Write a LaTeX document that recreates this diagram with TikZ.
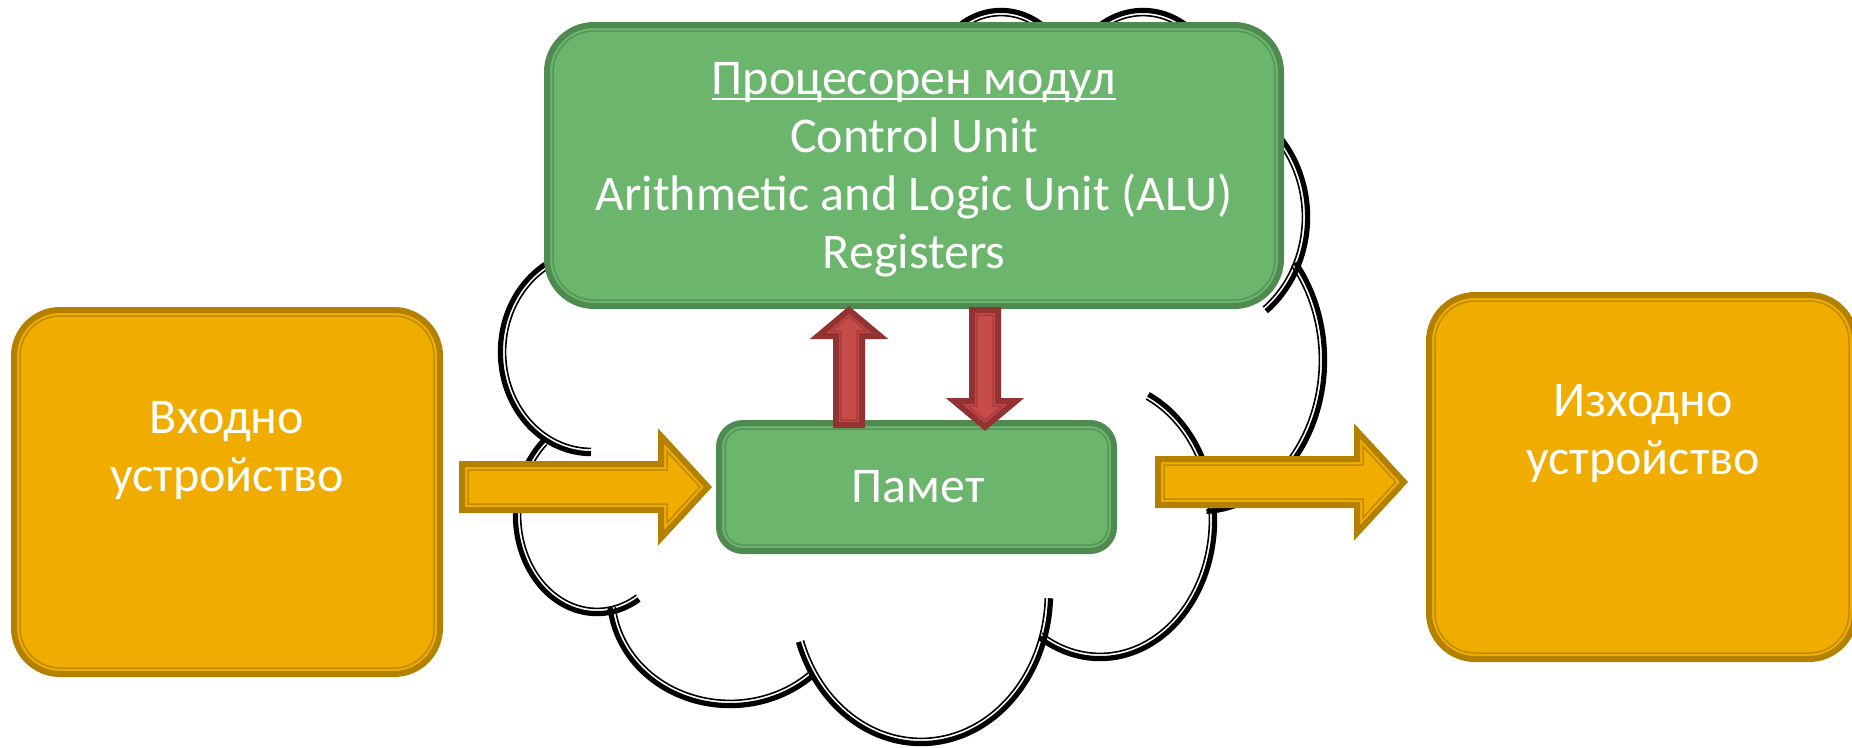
\documentclass[tikz,border=0pt]{standalone}
\usepackage{fontspec}
\setmainfont{Carlito}
\usetikzlibrary{calc}
\definecolor{orfill}{HTML}{F0AD00}
\definecolor{orline}{HTML}{B48000}
\definecolor{orinner}{HTML}{C08A00}
\definecolor{gfill}{HTML}{6BB56D}
\definecolor{gline}{HTML}{4F8A50}
\definecolor{ginner}{HTML}{56955A}
\definecolor{rfill}{HTML}{C64B49}
\definecolor{rline}{HTML}{923232}
\definecolor{rinner}{HTML}{A83C3C}
\newcommand\myuline[1]{\setbox0=\hbox{#1}\rlap{\rule[-6pt]{\wd0}{2.5pt}}\box0}
\newcommand\cloudarc[6]{%
  \draw[line width=5.2pt] plot[domain=#5:#6,samples=90,variable=\t] ({#1+(#3+1.6)*cos(\t)},{#2+(#4+1.6)*sin(\t)});
  \draw[line width=1.6pt] plot[domain=#5:#6,samples=90,variable=\t] ({#1+(#3-3.6)*cos(\t)},{#2+(#4-3.6)*sin(\t)});
}
\newcommand\inneroutline[4]{% node, inset, radius, color
  \draw[#4, line width=1.5pt, rounded corners=#3] ($(#1.north west)+(#2,#2)$) rectangle ($(#1.south east)+(-#2,-#2)$);
}
\newcommand\blockarrow[9]{% fill, line, inner, start, end, s, H, h, d
  \path (#4); \pgfgetlastxy{\bax}{\bay}
  \path (#5); \pgfgetlastxy{\bbx}{\bby}
  \pgfmathsetmacro\baL{veclen(\bbx-\bax,\bby-\bay)}
  \pgfmathsetmacro\baA{atan2(\bby-\bay,\bbx-\bax)}
  \pgfmathsetmacro\baN{veclen(#7,#8)}
  \pgfmathsetmacro\baB{\baL-#8}
  \pgfmathsetmacro\baBi{\baB+#9}
  \pgfmathsetmacro\baSi{#6-#9}
  \pgfmathsetmacro\baY{#7-#9*#8/\baN-(#7/#8)*(#9+#9*#7/\baN)}
  \pgfmathsetmacro\baT{\baL-#9*\baN/#7}
  \begin{scope}[shift={(\bax,\bay)}, rotate=\baA]
    \draw[fill=#1, draw=#2, line width=6pt] (0,-#6) -- (\baB,-#6) -- (\baB,-#7) -- (\baL,0) -- (\baB,#7) -- (\baB,#6) -- (0,#6) -- cycle;
    \draw[draw=#3, line width=1.5pt] (#9,-\baSi) -- (\baBi,-\baSi) -- (\baBi,-\baY) -- (\baT,0) -- (\baBi,\baY) -- (\baBi,\baSi) -- (#9,\baSi) -- cycle;
  \end{scope}}
\tikzset{
  stagebox/.style={draw, line width=6pt, rounded corners=#1, outer sep=0pt, inner sep=0pt},
  lbl/.style={text=white, align=center, font=\fontsize{50}{58}\selectfont, inner sep=0pt}
}
\begin{document}
\begin{tikzpicture}[x=1pt,y=-1pt]
\useasboundingbox (0,0) rectangle (1852,747);
% cloud
\cloudarc{1001}{90}{70}{78}{-165}{-15}
\cloudarc{1143}{95}{75}{83}{-165}{-15}
\cloudarc{1200}{217}{106}{118}{-60}{52}
\cloudarc{1200}{360}{123}{150}{-40}{87}
\cloudarc{1100}{520}{113}{137}{-65}{122}
\cloudarc{921}{593}{128}{149}{2}{161}
\cloudarc{730}{596}{119}{108}{46}{174}
\cloudarc{597}{515}{80}{97}{59}{229}
\cloudarc{591}{352}{89}{100}{90}{250}
% boxes
\node[stagebox=46pt, fill=orfill, draw=orline, minimum width=426pt, minimum height=364pt] (in) at (227,492) {};
\node[stagebox=46pt, fill=orfill, draw=orline, minimum width=426pt, minimum height=364pt] (out) at (1642,477) {};
\node[stagebox=47pt, fill=gfill, draw=gline, minimum width=734pt, minimum height=281pt] (cpu) at (914,165.5) {};
\node[stagebox=24pt, fill=gfill, draw=gline, minimum width=395pt, minimum height=128pt] (mem) at (916.5,487) {};
\inneroutline{in}{6}{40pt}{orinner}
\inneroutline{out}{6}{40pt}{orinner}
\inneroutline{cpu}{6}{41pt}{ginner}
\inneroutline{mem}{6}{18pt}{ginner}
% labels
\node[lbl] (inlbl) at (227,450) {Входно\\устройство};
\node[lbl] (outlbl) at (1643,433) {Изходно\\устройство};
\node[lbl] (cpulbl) at (914,169.5) {\myuline{Процесорен модул}\\Control Unit\\Arithmetic and Logic Unit (ALU)\\Registers};
\node[lbl] (memlbl) at (918,487) {Памет};
% connectors
\coordinate (a1s) at ($(in.east)+(22,-5)$);
\coordinate (a1e) at ($(mem.west)+(-11,0)$);
\coordinate (a2s) at ($(mem.east)+(44,-5)$);
\coordinate (a2e) at ($(out.west)+(-25,5)$);
\coordinate (r1s) at ($(mem.north)+(-67.5,2)$);
\coordinate (r1e) at ($(cpu.south)+(-65,4)$);
\coordinate (r2s) at ($(cpu.south)+(71,4)$);
\coordinate (r2e) at ($(mem.north)+(68.5,4)$);
\blockarrow{orfill}{orline}{orinner}{a1s}{a1e}{23}{51}{47}{6}
\blockarrow{orfill}{orline}{orinner}{a2s}{a2e}{23}{51}{47}{6}
\blockarrow{rfill}{rline}{rinner}{r1s}{r1e}{13}{31}{26}{5}
\blockarrow{rfill}{rline}{rinner}{r2s}{r2e}{13}{31}{26}{5}
\end{tikzpicture}
\end{document}
